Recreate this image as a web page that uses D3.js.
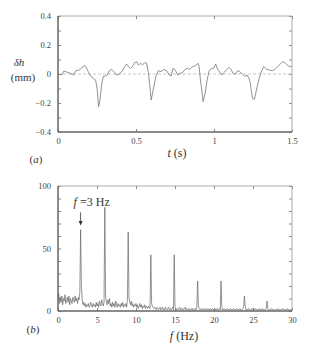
<!DOCTYPE html>
<meta charset="utf-8">
<script src="https://d3js.org/d3.v7.min.js"></script>
<style>
  body { margin: 0; background: #fff; }
</style>
<div id="my_dataviz"></div>
<script>
// (a) surface height fluctuation vs time
var timeS = [0, 0.023, 0.038, 0.055, 0.077, 0.098, 0.115, 0.137, 0.151, 0.166, 0.179, 0.194, 0.209, 0.226, 0.241,
  0.252, 0.260, 0.269, 0.279, 0.290, 0.303, 0.316, 0.329, 0.344, 0.358, 0.376, 0.393, 0.410, 0.427, 0.440,
  0.452, 0.465, 0.478, 0.491, 0.504, 0.516, 0.529, 0.542, 0.555, 0.568, 0.580, 0.589, 0.597, 0.610, 0.627,
  0.644, 0.661, 0.678, 0.696, 0.713, 0.725, 0.738, 0.751, 0.768, 0.781, 0.798, 0.815, 0.828, 0.845, 0.862,
  0.879, 0.896, 0.905, 0.913, 0.922, 0.930, 0.943, 0.956, 0.969, 0.986, 0.998, 1.011, 1.024, 1.037, 1.050,
  1.062, 1.080, 1.097, 1.109, 1.122, 1.139, 1.152, 1.165, 1.182, 1.199, 1.212, 1.225, 1.233, 1.246, 1.259,
  1.272, 1.289, 1.306, 1.319, 1.336, 1.353, 1.374, 1.391, 1.408, 1.425, 1.442, 1.459, 1.476, 1.500];
var deltaH = [0, -0.007, 0.021, 0.014, 0.005, -0.007, 0.023, 0.028, 0.039, 0.058, 0.051, 0.016, -0.014, -0.030, -0.041,
  -0.111, -0.226, -0.180, -0.076, -0.018, -0.014, -0.007, 0.023, 0.032, 0.016, -0.007, 0, 0.016, 0.051, 0.069,
  0.051, 0.039, 0.051, 0.078, 0.085, 0.062, 0.074, 0.062, 0.078, 0.074, 0.005, -0.088, -0.180, -0.111, -0.018,
  0.023, 0.016, 0.032, 0.023, -0.007, -0.014, 0.039, 0.028, -0.007, 0.005, 0.009, 0.032, 0.039, 0.032, 0.051,
  0.055, 0.074, 0.051, -0.041, -0.111, -0.191, -0.134, -0.041, 0.023, 0.039, 0.039, 0.069, 0.028, 0.016, -0.007,
  0.009, 0.028, 0.046, 0.032, 0.005, 0, 0.023, 0.016, 0, -0.018, -0.007, -0.030, -0.065, -0.168, -0.175,
  -0.111, -0.030, 0.023, 0.051, 0.032, 0.028, 0.023, 0.032, 0.051, 0.069, 0.085, 0.074, 0.055, 0.051];

// (b) spectrum, one value per 0.1 Hz from 0 to 30 Hz
var freqStep = 0.1;
var spectrum = [
  9, 14, 6, 11, 7, 12, 5, 10, 8, 13,
  6, 9, 11, 7, 12, 5, 10, 8, 6, 11,
  9, 7, 12, 8, 10, 6, 11, 9, 15, 65,
  20, 9, 5, 7, 4, 6, 3, 5, 4, 6,
  3, 5, 7, 4, 3, 6, 4, 5, 3, 7,
  4, 6, 3, 8, 5, 4, 9, 6, 4, 7,
  83, 12, 7, 5, 9, 6, 10, 4, 6, 3,
  7, 4, 6, 3, 8, 5, 3, 6, 4, 5,
  3, 6, 4, 7, 3, 5, 4, 6, 3, 9,
  63, 11, 7, 5, 8, 4, 6, 3, 5, 4,
  6, 3, 5, 2, 4, 6, 3, 5, 2, 4,
  3, 5, 2, 4, 3, 2, 4, 3, 2, 45,
  6, 4, 3, 2, 3, 2, 1, 3, 2, 1,
  2, 3, 1, 2, 3, 1, 2, 1, 3, 2,
  1, 2, 3, 1, 2, 1, 2, 3, 1, 45,
  3, 2, 1, 2, 1, 2, 3, 1, 2, 1,
  2, 1, 2, 3, 1, 2, 1, 1, 2, 1,
  1, 2, 1, 2, 1, 1, 2, 1, 3, 24,
  4, 2, 1, 2, 1, 1, 2, 1, 1, 2,
  1, 1, 2, 1, 1, 2, 1, 1, 2, 1,
  1, 2, 1, 1, 2, 1, 1, 2, 1, 24,
  3, 1, 1, 2, 1, 1, 1, 2, 1, 1,
  1, 2, 1, 1, 1, 2, 1, 1, 1, 2,
  1, 1, 1, 2, 1, 1, 1, 2, 3, 12,
  4, 1, 1, 1, 2, 1, 1, 1, 1, 2,
  1, 1, 1, 2, 1, 1, 1, 1, 2, 1,
  1, 1, 2, 1, 1, 1, 1, 2, 8, 2,
  1, 1, 1, 1, 2, 1, 1, 1, 1, 1,
  1, 1, 2, 1, 1, 1, 1, 1, 2, 1,
  1, 1, 1, 1, 2, 1, 1, 1, 1, 1,
  1];

var tTicks = [0, 0.5, 1, 1.5];
var hTicks = [-0.4, -0.2, 0, 0.2, 0.4];
var hMinor = [-0.4, -0.3, -0.2, -0.1, 0, 0.1, 0.2, 0.3, 0.4];
var fTicks = [0, 5, 10, 15, 20, 25, 30];
var aTicks = [0, 50, 100];
var aMinor = [0, 10, 20, 30, 40, 50, 60, 70, 80, 90, 100];

var serif = "'Liberation Serif'";

var svg = d3.select("#my_dataviz").append("svg")
  .attr("width", 329).attr("height", 351);

function frame(g, w, h) {
  g.append("line").attr("x1", 0).attr("x2", w).attr("y1", 0).attr("y2", 0)
    .attr("stroke", "#aaa").attr("stroke-width", 1);
  g.append("line").attr("x1", w).attr("x2", w).attr("y1", 0).attr("y2", h)
    .attr("stroke", "#aaa").attr("stroke-width", 1);
  g.append("line").attr("x1", 0).attr("x2", w).attr("y1", h).attr("y2", h)
    .attr("stroke", "#666").attr("stroke-width", 1.5);
  g.append("line").attr("x1", 0).attr("x2", 0).attr("y1", 0).attr("y2", h)
    .attr("stroke", "#666").attr("stroke-width", 1.5);
}

function styleAxis(sel) {
  sel.attr("font-family", serif);
  sel.select(".domain").remove();
  sel.selectAll("line").attr("stroke", "#888");
  sel.selectAll("text").attr("font-size", 8.5).style("fill", "#444").style("font-family", serif);
}

function label(x0, y0, html, size, anchor) {
  return svg.append("text").attr("x", x0).attr("y", y0).attr("font-size", size)
    .attr("text-anchor", anchor || "middle").style("font-family", serif).style("fill", "#333").html(html);
}

// ---------- panel (a) ----------
var ga = svg.append("g").attr("transform", "translate(58,16)");
var wA = 234, hA = 116;
var x = d3.scaleLinear().domain([0, 1.5]).range([0, wA]);
var y = d3.scaleLinear().domain([-0.4, 0.4]).range([hA, 0]);

ga.append("g").attr("transform", "translate(0," + hA + ")")
  .call(d3.axisBottom(x).tickValues(tTicks).tickSizeInner(-3).tickSizeOuter(0).tickPadding(6)
    .tickFormat(function(d) { return d3.format("")(d); }))
  .call(styleAxis);
ga.append("g")
  .call(d3.axisTop(x).tickValues(tTicks).tickSizeInner(-3).tickSizeOuter(0).tickFormat(""))
  .call(styleAxis);
ga.append("g")
  .call(d3.axisLeft(y).tickValues(hMinor).tickSizeInner(-3).tickSizeOuter(0).tickPadding(7)
    .tickFormat(function(d) { var r = Math.round(d * 10) / 10; return hTicks.indexOf(r) >= 0 ? d3.format("")(r) : ""; }))
  .call(styleAxis);
ga.append("g").attr("transform", "translate(" + wA + ",0)")
  .call(d3.axisRight(y).tickValues(hMinor).tickSizeInner(-3).tickSizeOuter(0).tickFormat(""))
  .call(styleAxis);

ga.append("line").attr("x1", 0).attr("x2", wA).attr("y1", y(0)).attr("y2", y(0))
  .attr("stroke", "#bbb").attr("stroke-width", 0.8).attr("stroke-dasharray", "3,2");

var lineA = d3.line().x(function(d, i) { return x(timeS[i]); }).y(function(d) { return y(d); });
ga.append("path").datum(deltaH).attr("d", lineA)
  .attr("fill", "none").attr("stroke", "#777").attr("stroke-width", 0.8);
frame(ga, wA, hA);

label(19, 66, '<tspan font-style="italic">δh</tspan>', 11);
label(23, 81, '(mm)', 11);
label(177, 157, '<tspan font-style="italic">t</tspan>  (s)', 12);
label(36, 163, '(<tspan font-style="italic">a</tspan>)', 11);

// ---------- panel (b) ----------
var gb = svg.append("g").attr("transform", "translate(58,186)");
var wB = 234, hB = 125;
var xf = d3.scaleLinear().domain([0, 30]).range([0, wB]);
var ya = d3.scaleLinear().domain([0, 100]).range([hB, 0]);

gb.append("g").attr("transform", "translate(0," + hB + ")")
  .call(d3.axisBottom(xf).tickValues(fTicks).tickSizeInner(-3).tickSizeOuter(0).tickPadding(6))
  .call(styleAxis);
gb.append("g")
  .call(d3.axisTop(xf).tickValues(fTicks).tickSizeInner(-3).tickSizeOuter(0).tickFormat(""))
  .call(styleAxis);
gb.append("g")
  .call(d3.axisLeft(ya).tickValues(aMinor).tickSizeInner(-3).tickSizeOuter(0).tickPadding(7)
    .tickFormat(function(d) { return aTicks.indexOf(d) >= 0 ? d : ""; }))
  .call(styleAxis);
gb.append("g").attr("transform", "translate(" + wB + ",0)")
  .call(d3.axisRight(ya).tickValues(aMinor).tickSizeInner(-3).tickSizeOuter(0).tickFormat(""))
  .call(styleAxis);

var lineB = d3.line().x(function(d, i) { return xf(i * freqStep); }).y(function(d) { return ya(d); });
gb.append("path").datum(spectrum).attr("d", lineB)
  .attr("fill", "none").attr("stroke", "#666").attr("stroke-width", 0.7);
frame(gb, wB, hB);

// annotation for the fundamental
var fx = 58 + xf(2.9);
label(fx - 7, 186 + ya(84), '<tspan font-style="italic">f</tspan> =3 Hz', 12, "start");
svg.append("line").attr("x1", fx).attr("x2", fx).attr("y1", 186 + ya(79)).attr("y2", 186 + ya(71))
  .attr("stroke", "#333").attr("stroke-width", 0.8);
svg.append("path")
  .attr("d", "M" + (fx - 2) + "," + (186 + ya(72)) + "L" + (fx + 2) + "," + (186 + ya(72)) + "L" + fx + "," + (186 + ya(68.5)) + "Z")
  .attr("fill", "#333");

label(184, 340, '<tspan font-style="italic">f</tspan>  (Hz)', 12);
label(33, 333, '(<tspan font-style="italic">b</tspan>)', 11);
</script>
